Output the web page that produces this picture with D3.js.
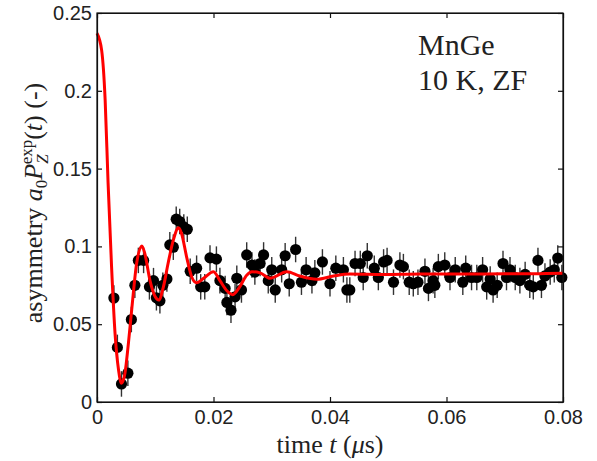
<!DOCTYPE html>
<html>
<head>
<meta charset="utf-8">
<script src="https://cdn.jsdelivr.net/npm/d3@7"></script>
<style>
  body { margin: 0; background: #fff; }
  .tick text { font-family: "Liberation Sans", Arial, sans-serif; font-size: 20px; fill: #222; }
  .axis path, .axis line { stroke: #111; stroke-width: 1.2; }
  .lbl { font-family: "Liberation Serif", "Times New Roman", serif; fill: #222; }
</style>
</head>
<body>
<div id="vis"></div>
<script>
// measured points (time in microseconds, asymmetry)
var timeData = [
  0.0029, 0.0035, 0.0042, 0.0053, 0.0059, 0.0065, 0.0071, 0.0080, 0.0090, 0.0097,
  0.0102, 0.0108, 0.0113, 0.0120, 0.0125, 0.0131, 0.0136, 0.0142, 0.0149, 0.0155,
  0.0160, 0.0171, 0.0178, 0.0185, 0.0194, 0.0205, 0.0211, 0.0220, 0.0223, 0.0230,
  0.0237, 0.0240, 0.0248, 0.0257, 0.0266, 0.0271, 0.0280, 0.0286, 0.0294, 0.0300,
  0.0306, 0.0317, 0.0323, 0.0330, 0.0341, 0.0351, 0.0359, 0.0369, 0.0374, 0.0387,
  0.0400, 0.0410, 0.0423, 0.0429, 0.0434, 0.0443, 0.0452, 0.0457, 0.0464, 0.0476,
  0.0483, 0.0492, 0.0498, 0.0509, 0.0520, 0.0526, 0.0536, 0.0543, 0.0551, 0.0563,
  0.0569, 0.0577, 0.0580, 0.0586, 0.0597, 0.0606, 0.0615, 0.0628, 0.0633, 0.0643,
  0.0652, 0.0662, 0.0669, 0.0675, 0.0680, 0.0687, 0.0697, 0.0703, 0.0709, 0.0718,
  0.0726, 0.0735, 0.0743, 0.0749, 0.0757, 0.0763, 0.0769, 0.0778, 0.0785, 0.0791,
  0.0798
];
var asymData = [
  0.0668, 0.0351, 0.0116, 0.0185, 0.0530, 0.0750, 0.0910, 0.0910, 0.0740, 0.0780,
  0.0670, 0.0650, 0.0750, 0.0790, 0.1010, 0.0995, 0.1175, 0.1160, 0.1125, 0.1110,
  0.0840, 0.0860, 0.0740, 0.0740, 0.0926, 0.0918, 0.0780, 0.0730, 0.0640, 0.0590,
  0.0676, 0.0795, 0.0720, 0.0945, 0.0880, 0.0835, 0.0890, 0.0945, 0.0780, 0.0850,
  0.0720, 0.0850, 0.0940, 0.0760, 0.0980, 0.0770, 0.0850, 0.0780, 0.0830, 0.0900,
  0.0760, 0.0860, 0.0850, 0.0720, 0.0720, 0.0890, 0.0890, 0.0800, 0.0940, 0.0860,
  0.0800, 0.0900, 0.0910, 0.0770, 0.0880, 0.0870, 0.0770, 0.0760, 0.0770, 0.0840,
  0.0730, 0.0780, 0.0750, 0.0870, 0.0880, 0.0800, 0.0850, 0.0770, 0.0860, 0.0800,
  0.0800, 0.0850, 0.0740, 0.0790, 0.0720, 0.0750, 0.0890, 0.0800, 0.0850, 0.0800,
  0.0780, 0.0820, 0.0750, 0.0740, 0.0910, 0.0750, 0.0810, 0.0835, 0.0850, 0.0925,
  0.0800
];
var errHalf = 0.0082; // error bar half length

// fitted curve
var fitTime = [
  0.0000, 0.0008, 0.0014, 0.0019, 0.0025, 0.0031, 0.0037, 0.0042, 0.0048, 0.0054,
  0.0060, 0.0068, 0.0077, 0.0082, 0.0091, 0.0100, 0.0106, 0.0114, 0.0122, 0.0131,
  0.0140, 0.0145, 0.0154, 0.0163, 0.0171, 0.0183, 0.0200, 0.0211, 0.0223, 0.0233,
  0.0245, 0.0257, 0.0266, 0.0280, 0.0297, 0.0326, 0.0348, 0.0377, 0.0406, 0.0434,
  0.0492, 0.0555, 0.0620, 0.0700, 0.0760, 0.0800
];
var fitAsym = [
  0.2370, 0.2260, 0.1940, 0.1410, 0.0870, 0.0440, 0.0206, 0.0120, 0.0185, 0.0380,
  0.0610, 0.0890, 0.1003, 0.0955, 0.0780, 0.0676, 0.0655, 0.0740, 0.0890, 0.1040,
  0.1120, 0.1085, 0.0930, 0.0800, 0.0766, 0.0795, 0.0837, 0.0780, 0.0715, 0.0690,
  0.0740, 0.0815, 0.0837, 0.0830, 0.0795, 0.0837, 0.0810, 0.0789, 0.0810, 0.0823,
  0.0820, 0.0823, 0.0822, 0.0824, 0.0825, 0.0827
];

var xTicks = [0, 0.02, 0.04, 0.06, 0.08];
var yTicks = [0, 0.05, 0.1, 0.15, 0.2, 0.25];

var width = 597, height = 461;
var margin = { left: 97, right: 34, top: 13, bottom: 59 };
var innerW = width - margin.left - margin.right;
var innerH = height - margin.top - margin.bottom;

var svg = d3.select('#vis').append('svg')
  .attr('width', width)
  .attr('height', height);

var g = svg.append('g')
  .attr('transform', 'translate(' + margin.left + ',' + margin.top + ')');

var x = d3.scaleLinear().domain([0, 0.08]).range([0, innerW]);
var y = d3.scaleLinear().domain([0, 0.25]).range([innerH, 0]);

var points = timeData.map(function (t, i) { return { t: t, a: asymData[i] }; });
var fit = fitTime.map(function (t, i) { return { t: t, a: fitAsym[i] }; });

// error bars
g.append('g').selectAll('line')
  .data(points)
  .enter()
  .append('line')
  .attr('x1', function (d) { return x(d.t); })
  .attr('x2', function (d) { return x(d.t); })
  .attr('y1', function (d) { return y(d.a - errHalf); })
  .attr('y2', function (d) { return y(d.a + errHalf); })
  .attr('stroke', '#333')
  .attr('stroke-width', 1.4);

// markers
g.append('g').selectAll('circle')
  .data(points)
  .enter()
  .append('circle')
  .attr('cx', function (d) { return x(d.t); })
  .attr('cy', function (d) { return y(d.a); })
  .attr('r', 5.6)
  .attr('fill', '#000');

// fit line
var line = d3.line()
  .x(function (d) { return x(d.t); })
  .y(function (d) { return y(d.a); })
  .curve(d3.curveMonotoneX);

g.append('path')
  .datum(fit)
  .attr('d', line)
  .attr('fill', 'none')
  .attr('stroke', '#f00')
  .attr('stroke-width', 3);

// axes, ticks pointing inward on all four sides
g.append('g')
  .attr('class', 'axis')
  .attr('transform', 'translate(0,' + innerH + ')')
  .call(d3.axisBottom(x).tickValues(xTicks).tickSizeInner(-5).tickSizeOuter(0).tickPadding(8)
    .tickFormat(function (d) { return d === 0 ? '0' : d3.format('.2f')(d); }));

g.append('g')
  .attr('class', 'axis')
  .call(d3.axisTop(x).tickValues(xTicks).tickSizeInner(-5).tickSizeOuter(0).tickFormat(''));

g.append('g')
  .attr('class', 'axis')
  .call(d3.axisLeft(y).tickValues(yTicks).tickSizeInner(-5).tickSizeOuter(0).tickPadding(5)
    .tickFormat(function (d) { return d === 0 ? '0' : String(+d.toFixed(2)); }));

g.append('g')
  .attr('class', 'axis')
  .attr('transform', 'translate(' + innerW + ',0)')
  .call(d3.axisRight(y).tickValues(yTicks).tickSizeInner(-5).tickSizeOuter(0).tickFormat(''));

g.append('rect')
  .attr('width', innerW)
  .attr('height', innerH)
  .attr('fill', 'none')
  .attr('stroke', '#111')
  .attr('stroke-width', 1.2);

// x label
var xl = svg.append('text')
  .attr('class', 'lbl')
  .attr('x', margin.left + innerW / 2)
  .attr('y', 453)
  .attr('text-anchor', 'middle')
  .style('font-size', '26px');
xl.append('tspan').text('time ');
xl.append('tspan').style('font-style', 'italic').text('t');
xl.append('tspan').text(' (');
xl.append('tspan').style('font-style', 'italic').text('\u03bc');
xl.append('tspan').text('s)');

// y label
var yl = svg.append('text')
  .attr('class', 'lbl')
  .attr('transform', 'translate(42,203) rotate(-90)')
  .attr('text-anchor', 'middle')
  .style('font-size', '26px');
yl.append('tspan').text('asymmetry ');
yl.append('tspan').style('font-style', 'italic').text('a');
yl.append('tspan').attr('dy', 5).style('font-size', '17px').text('0');
yl.append('tspan').attr('dy', -5).style('font-style', 'italic').text('P');
yl.append('tspan').attr('dy', 6).style('font-size', '17px').style('font-style', 'italic').text('Z');
yl.append('tspan').attr('dx', -10).attr('dy', -16).style('font-size', '17px').text('exp');
yl.append('tspan').attr('dy', 10).text('(');
yl.append('tspan').style('font-style', 'italic').text('t');
yl.append('tspan').text(') (-)');

// annotation
svg.append('text')
  .attr('class', 'lbl')
  .attr('x', 418)
  .attr('y', 55)
  .style('font-size', '30px')
  .text('MnGe');
svg.append('text')
  .attr('class', 'lbl')
  .attr('x', 418)
  .attr('y', 90)
  .style('font-size', '30px')
  .text('10 K, ZF');
</script>
</body>
</html>
